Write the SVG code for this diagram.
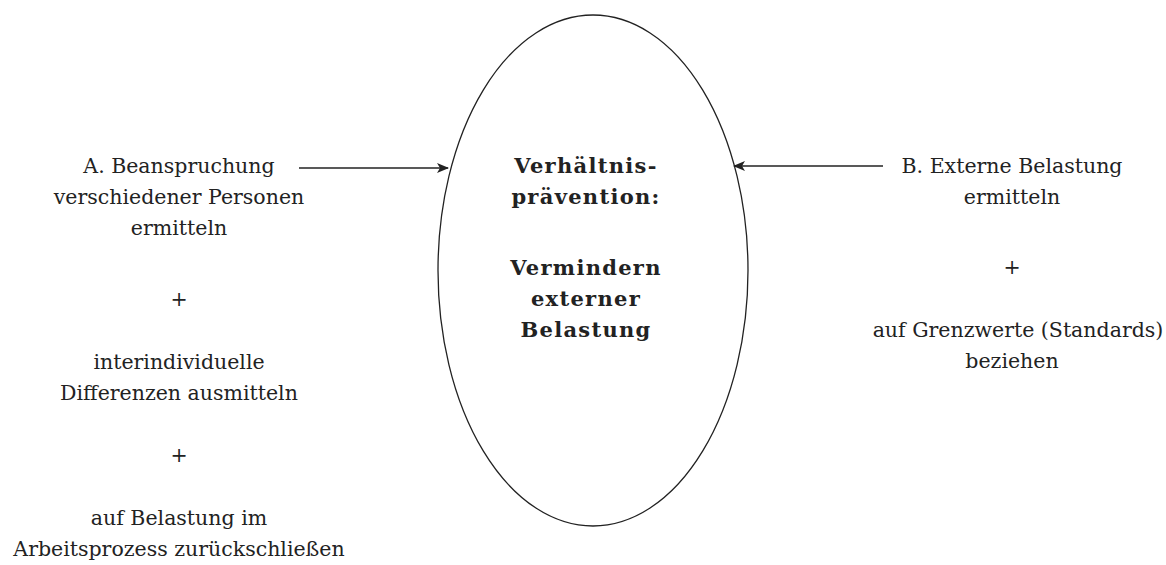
<svg xmlns="http://www.w3.org/2000/svg" width="1166" height="565" viewBox="0 0 1166 565">
<style>
text{font-family:"DejaVu Serif","Liberation Serif",serif;font-size:20.5px;fill:#222;text-anchor:middle}
.b{font-weight:bold;font-size:21px;letter-spacing:1.3px}
.e{fill:none;stroke:#222;stroke-width:1.3}
.c{stroke:#222;stroke-width:1.3;fill:none}
</style>
<defs>
<marker id="ah" viewBox="0 0 12 10" refX="11" refY="5" markerWidth="12" markerHeight="10" markerUnits="userSpaceOnUse" orient="auto">
<path d="M0,0 L12,5 L0,10 L3,5 Z" fill="#222"/>
</marker>
</defs>
<g id="center">
<ellipse class="e" cx="593" cy="270.5" rx="155" ry="255.5"/>
<text class="b" x="586" y="173">Verhältnis-</text>
<text class="b" x="586" y="204">prävention:</text>
<text class="b" x="586" y="275">Vermindern</text>
<text class="b" x="586" y="306">externer</text>
<text class="b" x="586" y="337">Belastung</text>
</g>
<g id="left">
<text x="179" y="173">A. Beanspruchung</text>
<text x="179" y="204">verschiedener Personen</text>
<text x="179" y="235">ermitteln</text>
<text x="179" y="306">+</text>
<text x="179" y="369">interindividuelle</text>
<text x="179" y="400">Differenzen ausmitteln</text>
<text x="179" y="462">+</text>
<text x="179" y="525">auf Belastung im</text>
<text x="179" y="556">Arbeitsprozess zurückschließen</text>
</g>
<g id="right">
<text x="1012" y="173">B. Externe Belastung</text>
<text x="1012" y="204">ermitteln</text>
<text x="1012" y="274">+</text>
<text x="1018" y="337">auf Grenzwerte (Standards)</text>
<text x="1012" y="368">beziehen</text>
</g>
<g id="connectors">
<line class="c" x1="299" y1="168" x2="448" y2="168" marker-end="url(#ah)"/>
<line class="c" x1="883" y1="166" x2="734" y2="166" marker-end="url(#ah)"/>
</g>
</svg>
